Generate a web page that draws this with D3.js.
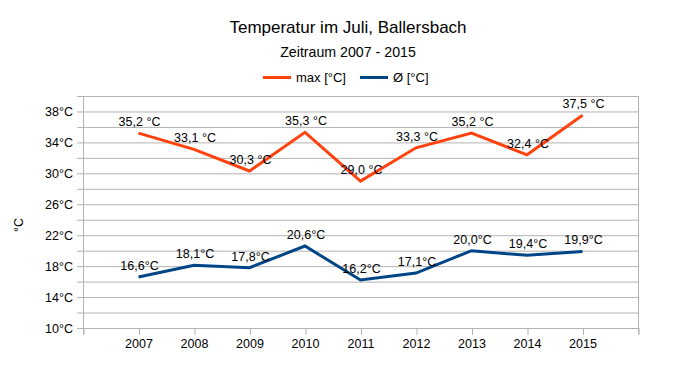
<!DOCTYPE html>
<html lang="de">
<head>
<meta charset="UTF-8">
<title>Temperatur im Juli, Ballersbach</title>
<style>
    body { margin: 0; padding: 0; background: #fff; }
    svg { display: block; }
    text { font-family: "Liberation Sans", Arial, sans-serif; }
</style>
</head>
<body>
<svg width="696" height="366"></svg>
<script src="https://d3js.org/d3.v7.min.js"></script>
<script>
    // Data
    const years = ["2007", "2008", "2009", "2010", "2011", "2012", "2013", "2014", "2015"];
    const maxTemp = [35.2, 33.1, 30.3, 35.3, 29.0, 33.3, 35.2, 32.4, 37.5];
    const avgTemp = [16.6, 18.1, 17.8, 20.6, 16.2, 17.1, 20.0, 19.4, 19.9];
    const yTickValues = [10, 14, 18, 22, 26, 30, 34, 38];

    const svg = d3.select("svg");
    const margin = { left: 83, right: 58, top: 96, bottom: 38 };
    const width = 696, height = 366;
    const gridColor = "#b3b3b3";

    // categories sit at 1..9 on a 0..10 axis
    const x = d3.scaleLinear().domain([0, years.length + 1]).range([margin.left, width - margin.right]);
    const y = d3.scaleLinear().domain([10, 40]).range([height - margin.bottom, margin.top]);

    // gridlines every 2 degrees
    svg.append("g")
        .selectAll("line")
        .data(d3.range(10, 41, 2))
        .join("line")
        .attr("x1", margin.left - 6)
        .attr("x2", width - margin.right)
        .attr("y1", d => y(d) + 0.5)
        .attr("y2", d => y(d) + 0.5)
        .attr("stroke", gridColor)
        .attr("stroke-width", 1);

    // left axis line and right border
    svg.append("line")
        .attr("x1", margin.left + 0.5).attr("x2", margin.left + 0.5)
        .attr("y1", margin.top).attr("y2", height - margin.bottom + 6)
        .attr("stroke", gridColor);
    svg.append("line")
        .attr("x1", width - margin.right + 0.5).attr("x2", width - margin.right + 0.5)
        .attr("y1", margin.top).attr("y2", height - margin.bottom + 6)
        .attr("stroke", gridColor);

    // x axis ticks and labels
    const xAxis = d3.axisBottom(x)
        .tickValues(d3.range(0, years.length + 2))
        .tickSize(7)
        .tickFormat(d => (d >= 1 && d <= years.length) ? years[d - 1] : "");
    const gx = svg.append("g")
        .attr("transform", `translate(0,${height - margin.bottom})`)
        .call(xAxis);
    gx.select(".domain").remove();
    gx.selectAll(".tick line").attr("stroke", gridColor).attr("transform", "translate(0.5,0)");
    gx.selectAll(".tick text")
        .attr("font-family", null)
        .attr("font-size", 12.5)
        .attr("fill", "#000")
        .attr("dy", "0.71em")
        .attr("y", 11);
    gx.attr("font-family", null);

    // y axis labels
    const yAxis = d3.axisLeft(y)
        .tickValues(yTickValues)
        .tickSize(0)
        .tickPadding(10)
        .tickFormat(d => d + "°C");
    const gy = svg.append("g")
        .attr("transform", `translate(${margin.left},0)`)
        .call(yAxis);
    gy.select(".domain").remove();
    gy.attr("font-family", null);
    gy.selectAll(".tick text")
        .attr("font-size", 12.5)
        .attr("fill", "#000");

    // y axis title
    svg.append("text")
        .attr("transform", "translate(23,225) rotate(-90)")
        .attr("text-anchor", "middle")
        .attr("font-size", 12.5)
        .text("°C");

    // series
    const series = [
        { name: "max [°C]", values: maxTemp, color: "#ff420e", fmt: v => d3.format(".1f")(v).replace(".", ",") + " °C" },
        { name: "Ø [°C]", values: avgTemp, color: "#004586", fmt: v => d3.format(".1f")(v).replace(".", ",") + "°C" }
    ];

    const line = d3.line()
        .x((d, i) => x(i + 1))
        .y(d => y(d));

    series.forEach(s => {
        svg.append("path")
            .datum(s.values)
            .attr("d", line)
            .attr("fill", "none")
            .attr("stroke", s.color)
            .attr("stroke-width", 3)
            .attr("stroke-linejoin", "miter");
    });

    series.forEach(s => {
        svg.append("g")
            .selectAll("text")
            .data(s.values)
            .join("text")
            .attr("x", (d, i) => x(i + 1) + 1)
            .attr("y", d => y(d) - 7)
            .attr("text-anchor", "middle")
            .attr("font-size", 12.5)
            .attr("fill", "#000")
            .text(d => s.fmt(d));
    });

    // titles
    svg.append("text")
        .attr("x", 348).attr("y", 33)
        .attr("text-anchor", "middle")
        .attr("font-size", 17)
        .text("Temperatur im Juli, Ballersbach");
    svg.append("text")
        .attr("x", 348).attr("y", 57)
        .attr("text-anchor", "middle")
        .attr("font-size", 14.2)
        .text("Zeitraum 2007 - 2015");

    // legend
    const legendX = [263, 360];
    series.forEach((s, i) => {
        svg.append("line")
            .attr("x1", legendX[i]).attr("x2", legendX[i] + 28)
            .attr("y1", 77.5).attr("y2", 77.5)
            .attr("stroke", s.color)
            .attr("stroke-width", 3);
        svg.append("text")
            .attr("x", legendX[i] + 33)
            .attr("y", 82)
            .attr("font-size", 13)
            .text(s.name);
    });
</script>
</body>
</html>
